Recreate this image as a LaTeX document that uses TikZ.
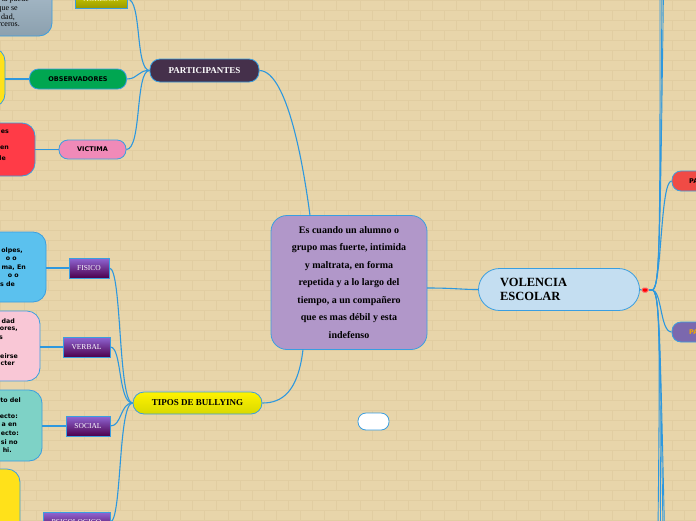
\documentclass[tikz,border=0pt]{standalone}
\usepackage{fontspec}
\setmainfont{Liberation Serif}
\newfontfamily\heavysans{DejaVu Sans}
\usetikzlibrary{positioning}

\definecolor{wall}{HTML}{E8D5AA}
\definecolor{mortar}{HTML}{E1CDA1}
\definecolor{branch}{HTML}{2E98DE}
\definecolor{rim}{HTML}{3A9EE0}
\definecolor{cloud}{HTML}{B197C9}
\definecolor{sky}{HTML}{C4DEF1}
\definecolor{plum}{HTML}{45304B}
\definecolor{leaf}{HTML}{00A651}
\definecolor{rose}{HTML}{F08AB8}
\definecolor{alarm}{HTML}{FF3B47}
\definecolor{lemon}{HTML}{FFE11A}
\definecolor{azure}{HTML}{5BC1EE}
\definecolor{blush}{HTML}{F9C7D6}
\definecolor{mint}{HTML}{7ED2C6}
\definecolor{steel}{HTML}{A4BCCD}
\definecolor{grape}{HTML}{7B68AE}
\definecolor{amber}{HTML}{F2A900}
\definecolor{tomato}{HTML}{F04B45}

\begin{document}
\begin{tikzpicture}[
  x=1pt, y=-1pt,
  topic/.style={draw=rim, line width=0.8pt, inner sep=0pt},
  pill/.style={topic, rounded corners=9pt, minimum height=20pt,
               font=\heavysans\bfseries\fontsize{6.5}{8}\selectfont},
  tag/.style={topic, minimum height=20pt, top color=violet!55!blue!60!white,
              bottom color=violet!60!black, text=white,
              font=\fontsize{7.5}{9}\selectfont},
  note/.style={topic, rounded corners=13pt},
  cut/.style={anchor=east, inner sep=0pt,
              font=\heavysans\bfseries\fontsize{6.3}{8}\selectfont},
  edge/.style={draw=branch, line width=1.1pt},
]
  \clip (0,0) rectangle (696,520);
  \fill[wall] (0,0) rectangle (696,520);
  % brick wall
  \foreach \r in {0,...,52} {
    \draw[mortar, line width=0.4pt] (0,{\r*10}) -- (696,{\r*10});
    \foreach \c in {0,...,29}
      \draw[mortar, line width=0.4pt] ({\c*24+mod(\r,2)*12},{\r*10}) -- ++(0,10);
  }

  % left column of notes
  \node[note, top color=steel!80!white, bottom color=steel!85!black,
        minimum width=112pt, minimum height=76pt] (agrnote) at (-4,-2) {};
  \node[note, fill=lemon, minimum width=45pt, minimum height=59pt] (obsnote) at (-17.5,77.5) {};
  \node[note, fill=alarm, minimum width=75pt, minimum height=53pt] (vicnote) at (-2.5,149.5) {};
  \node[note, fill=azure, minimum width=86pt, minimum height=70pt] (fisnote) at (3,267) {};
  \node[note, fill=blush, minimum width=80pt, minimum height=70pt] (vernote) at (0,346) {};
  \node[note, fill=mint, minimum width=82pt, minimum height=71pt] (socnote) at (1,425.5) {};
  \node[note, fill=lemon, minimum width=60pt, minimum height=91pt] (psinote) at (-10,514.5) {};

  \begin{scope}[every node/.style={anchor=east, inner sep=0pt,
                font=\fontsize{8}{9}\selectfont}]
    \node (agr1) at (29,0) {la puede};
    \node (agr2) at (18,9) {que se};
    \node (agr3) at (15,17) {dad,};
    \node (agr4) at (20,25) {rceros.};
  \end{scope}
  \node[cut] (vic1) at (9,132) {es};
  \node[cut] (vic2) at (9,148) {en};
  \node[cut] (vic3) at (6,158) {le};
  \node[cut] (fis1) at (23,251) {olpes,};
  \node[cut] (fis2) at (17,259) {o o};
  \node[cut] (fis3) at (26,267.5) {ma, En};
  \node[cut] (fis4) at (19,276) {o o};
  \node[cut] (fis5) at (15,284) {s de};
  \node[cut] (ver1) at (15,321) {dad};
  \node[cut] (ver2) at (18,329) {ores,};
  \node[cut] (ver3) at (3,338) {s};
  \node[cut] (ver4) at (18,356) {eirse};
  \node[cut] (ver5) at (15,363) {cter};
  \node[cut] (soc1) at (21,400) {to del};
  \node[cut] (soc2) at (18,416) {ecto:};
  \node[cut] (soc3) at (17,425) {a en};
  \node[cut] (soc4) at (19,433) {ecto:};
  \node[cut] (soc5) at (18,442) {si no};
  \node[cut] (soc6) at (12,450) {hi.};

  % participantes branch
  \node[topic, top color=yellow!75!olive, bottom color=olive!80!yellow,
        minimum width=52pt, minimum height=18pt, text=yellow!20!white,
        font=\fontsize{7.5}{9}\selectfont] (agresor) at (101,-1) {AGRESOR};
  \node[pill, fill=leaf, minimum width=97pt] (observ) at (78,79) {OBSERVADORES};
  \node[pill, fill=rose, minimum width=67pt, minimum height=19pt] (victima) at (92.5,149.5) {VICTIMA};
  \node[topic, fill=plum, rounded corners=10pt, minimum width=109pt,
        minimum height=23pt, text=white, font=\bfseries\fontsize{9}{11}\selectfont]
        (partic) at (204.5,70.5) {PARTICIPANTES};

  % tipos branch
  \node[tag, minimum width=40pt] (fisico) at (89,268) {FISICO};
  \node[tag, minimum width=47pt] (verbal) at (86.5,347) {VERBAL};
  \node[tag, minimum width=44pt] (social) at (88,426) {SOCIAL};
  \node[tag, minimum width=67pt] (psico) at (76.5,522) {PSICOLOGICO};
  \node[topic, top color=yellow!90!orange, bottom color=yellow!70!olive,
        rounded corners=11pt, minimum width=129pt, minimum height=22pt,
        font=\bfseries\fontsize{9}{11}\selectfont] (tipos) at (197.5,403) {TIPOS DE BULLYING};

  % centre
  \node[topic, fill=cloud, rounded corners=16pt, minimum width=156pt,
        minimum height=134pt, align=center,
        font=\bfseries\fontsize{10}{17.5}\selectfont] (core) at (349,282.5)
    {Es cuando un alumno o\\grupo mas fuerte, intimida\\y maltrata, en forma\\
     repetida y a lo largo del\\tiempo, a un compañero\\que es mas débil y esta\\indefenso};
  \node[topic, fill=white, rounded corners=8pt, minimum width=31pt,
        minimum height=17pt] (blank) at (373.5,421.5) {};

  % root
  \node[topic, fill=sky, rounded corners=21pt, minimum width=161pt,
        minimum height=42pt, text width=118pt, align=left,
        font=\bfseries\fontsize{12.5}{14}\selectfont] (root) at (559,289.5)
    {VOLENCIA\\ESCOLAR};
  \node[fill=red, draw=red!60!white, line width=1pt, rounded corners=1.5pt,
        minimum width=6pt, minimum height=4pt, inner sep=0pt] (knob) at (645,290) {};
  \coordinate (hub) at (652,290);

  \node[topic, fill=tomato, rounded corners=9pt, minimum width=48pt,
        minimum height=20pt] (padA) at (696,181) {};
  \node[topic, fill=grape, rounded corners=9pt, minimum width=48pt,
        minimum height=20pt] (padB) at (696,332) {};
  \node[anchor=west, inner sep=0pt, font=\heavysans\bfseries\fontsize{6.5}{8}\selectfont]
    (padAtxt) at (689,181.5) {PA};
  \node[anchor=west, inner sep=0pt, text=amber,
        font=\heavysans\bfseries\fontsize{6.5}{8}\selectfont]
    (padBtxt) at (689,332.5) {PA};

  \coordinate (up1) at (660,-10);
  \coordinate (up2) at (662,-10);
  \coordinate (up3) at (663.5,-10);
  \coordinate (dn1) at (658,530);
  \coordinate (dn2) at (660.5,530);
  \coordinate (dn3) at (663,530);
  \coordinate (dn4) at (664.5,530);

  % connectors
  \draw[edge] (agrnote.east |- agresor) -- (agresor.west);
  \draw[edge] (obsnote.east |- observ) -- (observ.west);
  \draw[edge] (vicnote.east |- victima) -- (victima.west);
  \draw[edge] (agresor.east) .. controls (142,-1) and (135,70) .. (partic.west);
  \draw[edge] (observ.east) .. controls (138,79) and (138,70) .. (partic.west);
  \draw[edge] (victima.east) .. controls (142,149) and (135,70) .. (partic.west);
  \draw[edge] (partic.east) .. controls (288,71) and (304,170) .. (310,215.5);

  \draw[edge] (fisnote.east |- fisico) -- (fisico.west);
  \draw[edge] (vernote.east |- verbal) -- (verbal.west);
  \draw[edge] (socnote.east |- social) -- (social.west);
  \draw[edge] (tipos.west) .. controls (118,403) and (122,268) .. (fisico.east);
  \draw[edge] (tipos.west) .. controls (118,403) and (122,347) .. (verbal.east);
  \draw[edge] (tipos.west) .. controls (120,403) and (122,426) .. (social.east);
  \draw[edge] (tipos.west) .. controls (118,403) and (122,520) .. (psico.east);
  \draw[edge] (303,349.5) .. controls (298,392) and (282,403) .. (tipos.east);

  \draw[edge] (427,288) .. controls (455,288) and (460,289.5) .. (root.west);
  \draw[edge] (root.east) -- (knob.west);
  \draw[edge] (knob.east) -- (hub);
  \foreach \t in {up1,up2,up3}
    \draw[edge, line width=0.9pt] (hub) .. controls (660,290) and (660,240) .. (\t);
  \foreach \t in {dn1,dn2,dn3,dn4}
    \draw[edge, line width=0.9pt] (hub) .. controls (660,290) and (660,340) .. (\t);
  \draw[edge] (hub) .. controls (662,290) and (660,181) .. (padA.west);
  \draw[edge] (hub) .. controls (662,290) and (660,332) .. (padB.west);
\end{tikzpicture}
\end{document}
